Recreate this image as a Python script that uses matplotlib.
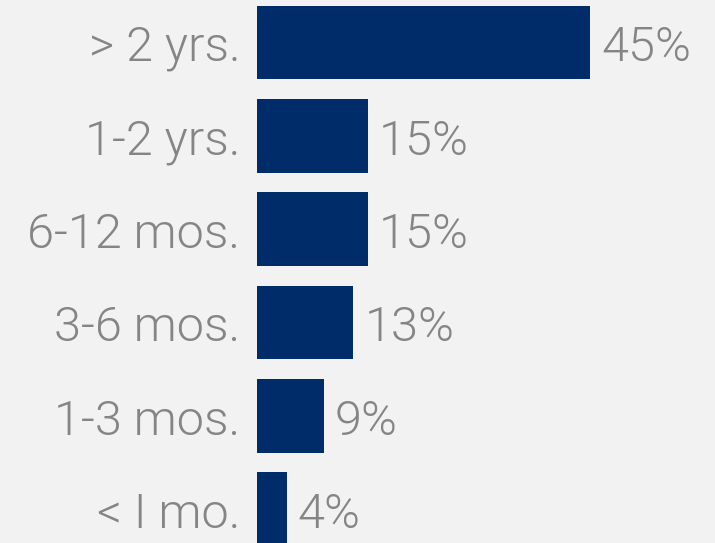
import matplotlib

matplotlib.use("Agg")
import matplotlib.pyplot as plt  # noqa: E402

# time-in-role buckets, top to bottom
buckets = ["> 2 yrs.", "1-2 yrs.", "6-12 mos.", "3-6 mos.", "1-3 mos.", "< I mo."]
share = [45, 15, 15, 13, 9, 4]

BG = "#f2f2f2"
NAVY = "#002d6a"
GREY = "#858585"

plt.rcParams["font.family"] = ["Roboto", "DejaVu Sans"]
TXT = dict(fontsize=35, color=GREY, fontweight=300, va="center",
           textcoords="offset points", annotation_clip=False)

fig = plt.figure(figsize=(7.15, 5.43), dpi=100, facecolor=BG)
ax = fig.add_axes([257 / 715, 0, 1 - 257 / 715, 1])
ax.set_facecolor(BG)

y = list(range(len(buckets)))
bars = ax.barh(y, share, height=0.79, color=NAVY)
for b, v, name in zip(bars, share, buckets):
    yc = b.get_y() + b.get_height() / 2
    ax.annotate(f"{v}%", (b.get_width(), yc), xytext=(8, -4), ha="left", **TXT)
    # category label sits left of the axis, no tick marks
    ax.annotate(name, (0, yc), xytext=(-12, -4), ha="right", **TXT)

ax.set_xlim(0, 45 * 458 / 333)
ax.set_ylim((543 - 42.5) / 93.3, -42.5 / 93.3)
ax.set_yticks([])
ax.set_xticks([])
for s in ax.spines.values():
    s.set_visible(False)

fig.savefig("out.png", dpi=100, facecolor=BG)
